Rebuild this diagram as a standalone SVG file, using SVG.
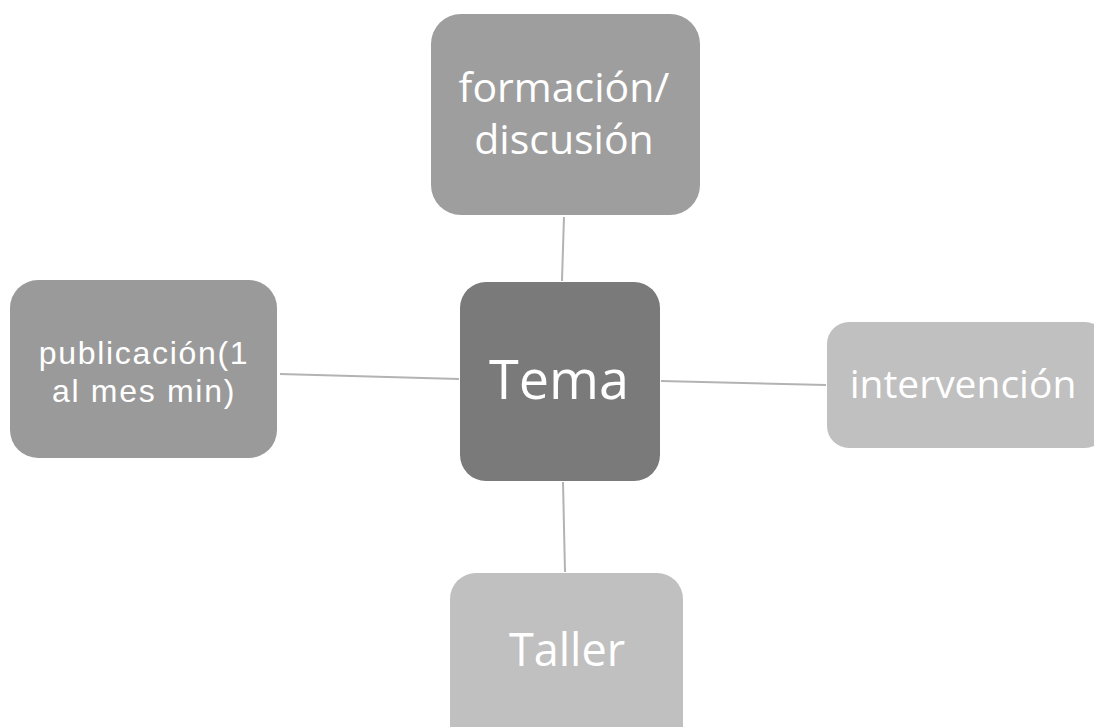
<svg xmlns="http://www.w3.org/2000/svg" width="1094" height="727" viewBox="0 0 1094 727">
<style>
.lbl{font-family:"Open Sans","Liberation Sans",sans-serif;fill:#ffffff;text-anchor:middle}
.lbl2{font-family:"Liberation Sans",Arial,sans-serif;fill:#ffffff;text-anchor:middle;letter-spacing:1.7px}
.conn line{stroke:#b3b3b3;stroke-width:2}
</style>
<rect width="1094" height="727" fill="#ffffff"/>
<g class="conn" id="connectors">
<line x1="564" y1="217" x2="562" y2="281"/>
<line x1="280" y1="374" x2="459" y2="379"/>
<line x1="661" y1="381" x2="826" y2="385"/>
<line x1="563" y1="482" x2="565" y2="572"/>
</g>
<g id="node-formacion">
<rect x="431" y="14" width="269" height="201" rx="30" fill="#9e9e9e"/>
<text class="lbl" font-size="41"><tspan x="564" y="102">formación/</tspan><tspan x="564" y="154">discusión</tspan></text>
</g>
<g id="node-publicacion">
<rect x="10" y="280" width="267" height="178" rx="28" fill="#9a9a9a"/>
<text class="lbl2" font-size="32"><tspan x="144" y="364">publicación(1</tspan><tspan x="144" y="402">al mes min)</tspan></text>
</g>
<g id="node-tema">
<rect x="460" y="282" width="200" height="199" rx="26" fill="#7a7a7a"/>
<text class="lbl" x="559" y="399" font-size="54">Tema</text>
</g>
<g id="node-intervencion">
<rect x="827" y="322" width="280" height="126" rx="22" fill="#c0c0c0"/>
<text class="lbl" x="963" y="398" font-size="39">intervención</text>
</g>
<g id="node-taller">
<rect x="450" y="573" width="233" height="180" rx="26" fill="#c0c0c0"/>
<text class="lbl" x="567" y="666" font-size="45">Taller</text>
</g>
</svg>
